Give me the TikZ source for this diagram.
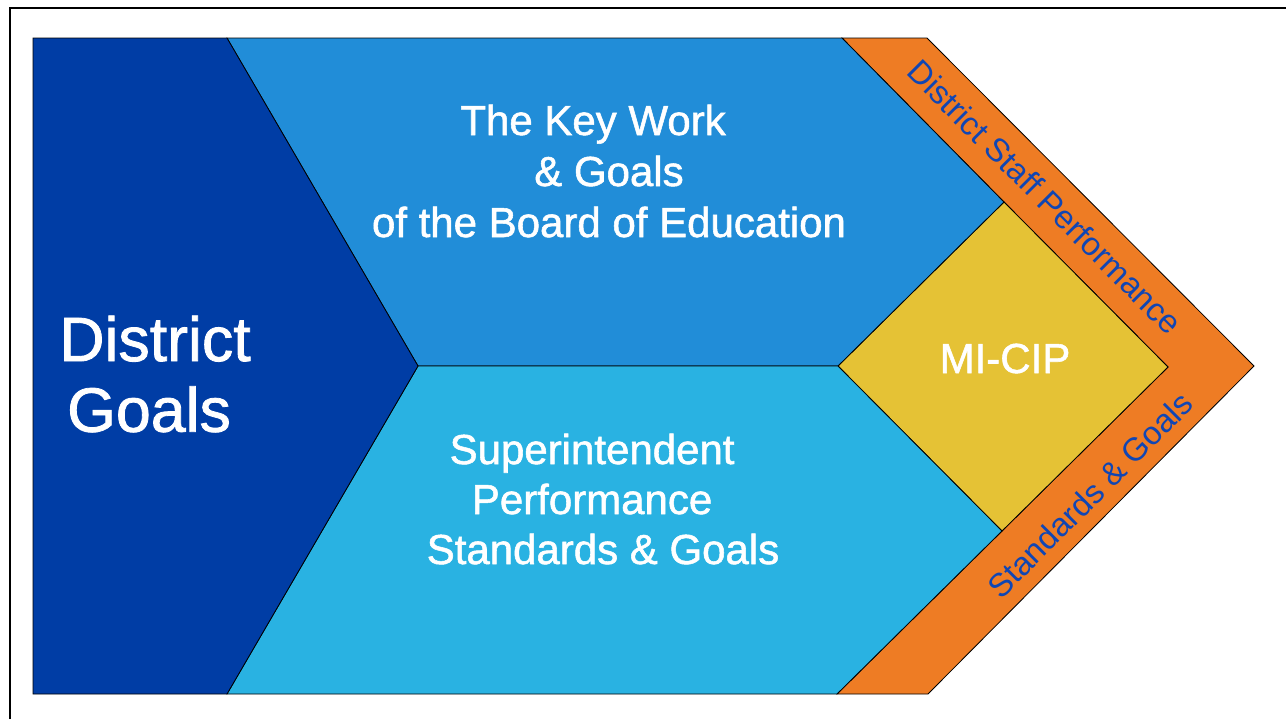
\documentclass[tikz,border=0pt]{standalone}
\usepackage{fontspec}
\setmainfont{Liberation Sans}
\newfontfamily\labelfont[FakeBold=1.3]{Liberation Sans}
\definecolor{darkblue}{RGB}{0,61,165}
\definecolor{midblue}{RGB}{33,141,216}
\definecolor{lightblue}{RGB}{41,178,226}
\definecolor{goldy}{RGB}{229,194,53}
\definecolor{orangey}{RGB}{238,124,36}
\definecolor{bandtext}{RGB}{16,70,180}
\begin{document}
\begin{tikzpicture}[x=0.75pt,y=-0.75pt,
  piece/.style={draw=black,line width=0.6pt,line join=miter},
  whitelbl/.style={text=white,align=center,inner sep=0pt},
  bandlbl/.style={text=bandtext,inner sep=0pt,font=\fontsize{24.5}{29}\selectfont}]
\useasboundingbox (0,0) rectangle (1286,719);
\draw[line width=1.5pt] (10,719) -- (10,8) -- (1286,8);
% orange band
\path[piece,fill=orangey] (842,38) -- (927,38) -- (1254,366) -- (928,694) -- (837,694)
  -- (1002,531) -- (1168,367) -- (1004,202) -- cycle;
% yellow diamond
\path[piece,fill=goldy] (1004,202) -- (1168,367) -- (1002,531) -- (838,366) -- cycle;
% top blue
\path[piece,fill=midblue] (227,38) -- (842,38) -- (1004,202) -- (838,366) -- (418,366) -- cycle;
% bottom light blue
\path[piece,fill=lightblue] (418,366) -- (838,366) -- (1002,531) -- (837,694) -- (227,694) -- cycle;
% dark blue
\path[piece,fill=darkblue] (33,38) -- (227,38) -- (418,366) -- (227,694) -- (33,694) -- cycle;
% labels
\node[whitelbl,font=\labelfont\fontsize{47}{53}\selectfont] (dg) at (155,374)
  {District\\\mbox{Goals\hspace{0.19em}}};
\node[whitelbl,font=\labelfont\fontsize{31.5}{38.25}\selectfont] (kw) at (609,171)
  {\mbox{The Key Work\hspace{0.76em}}\\\& Goals\\of the Board of Education};
\node[whitelbl,font=\labelfont\fontsize{31.5}{37.5}\selectfont] (sp) at (603,499)
  {\mbox{Superintendent\hspace{0.52em}}\\\mbox{Performance\hspace{0.52em}}\\Standards \& Goals};
\node[whitelbl,anchor=base,font=\labelfont\fontsize{31.5}{38}\selectfont] (mi) at (1005,373) {MI-CIP};
\node[bandlbl,rotate=-45] (ds) at (1045,197) {District Staff Performance};
\node[bandlbl,rotate=45] (sg) at (1090,495) {Standards \& Goals};
\end{tikzpicture}
\end{document}
